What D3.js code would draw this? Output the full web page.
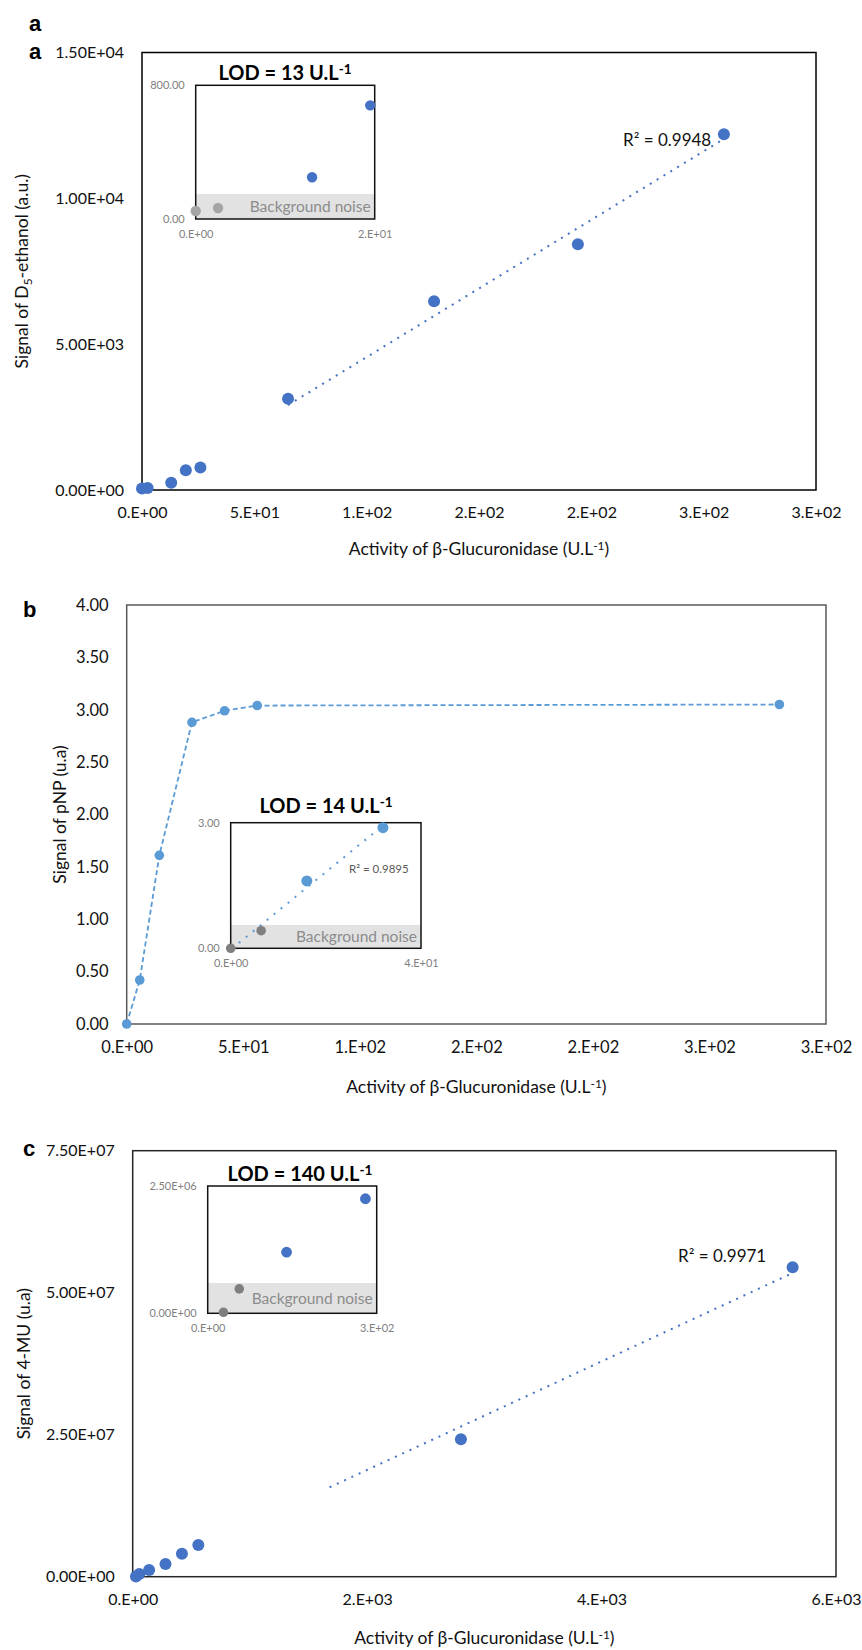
<!DOCTYPE html>
<html>
<head>
<meta charset="utf-8">
<script src="https://cdn.jsdelivr.net/npm/d3@7"></script>
<style>
body { margin: 0; background: #fff; }
svg text { font-family: Lato, "Open Sans", sans-serif; }
.panel-letter { font-family: "Liberation Sans", Arial, sans-serif !important; font-weight: bold; font-size: 22px; }
</style>
</head>
<body>
<svg id="chart" width="862" height="1650"></svg>
<script>
// ---------- data: panel a (D5-ethanol) ----------
var aActivity = [0, 2.5, 13, 19.5, 26, 65, 130, 194, 259];
var aSignal   = [48, 66, 250, 680, 770, 3126, 6471, 8424, 12195];
var aXTicks = [0, 50, 100, 150, 200, 250, 300];
var aXTickLabels = ["0.E+00", "5.E+01", "1.E+02", "2.E+02", "2.E+02", "3.E+02", "3.E+02"];
var aYTicks = [0, 5000, 10000, 15000];
var aYTickLabels = ["0.00E+00", "5.00E+03", "1.00E+04", "1.50E+04"];
var aInsetXTicks = [0, 20];
var aInsetXTickLabels = ["0.E+00", "2.E+01"];
var aInsetYTicks = [0, 800];
var aInsetYTickLabels = ["0.00", "800.00"];
var aNoise = 150;
var aLod = "13";
var aR2 = "0.9948";
var aTrendFrom = 65;

// ---------- data: panel b (pNP) ----------
var bActivity = [0, 5.6, 14, 28, 42, 56, 280];
var bSignal   = [0, 0.42, 1.61, 2.88, 2.99, 3.04, 3.05];
var bXTicks = [0, 50, 100, 150, 200, 250, 300];
var bXTickLabels = ["0.E+00", "5.E+01", "1.E+02", "2.E+02", "2.E+02", "3.E+02", "3.E+02"];
var bYTicks = [0, 0.5, 1, 1.5, 2, 2.5, 3, 3.5, 4];
var bYTickLabels = ["0.00", "0.50", "1.00", "1.50", "2.00", "2.50", "3.00", "3.50", "4.00"];
var bInsetXTicks = [0, 35];
var bInsetXTickLabels = ["0.E+00", "4.E+01"];
var bInsetYTicks = [0, 3];
var bInsetYTickLabels = ["0.00", "3.00"];
var bNoise = 0.556;
var bLod = "14";
var bR2 = "0.9895";
var bTrendFrom = 1.5;

// ---------- data: panel c (4-MU) ----------
var cActivity = [28, 56, 140, 280, 420, 560, 2800, 5630];
var cSignal   = [0.02e6, 0.48e6, 1.2e6, 2.25e6, 4.05e6, 5.58e6, 24.2e6, 54.5e6];
var cXTicks = [0, 2000, 4000, 6000];
var cXTickLabels = ["0.E+00", "2.E+03", "4.E+03", "6.E+03"];
var cYTicks = [0, 2.5e7, 5e7, 7.5e7];
var cYTickLabels = ["0.00E+00", "2.50E+07", "5.00E+07", "7.50E+07"];
var cInsetXTicks = [0, 300];
var cInsetXTickLabels = ["0.E+00", "3.E+02"];
var cInsetYTicks = [0, 2.5e6];
var cInsetYTickLabels = ["0.00E+00", "2.50E+06"];
var cNoise = 0.595e6;
var cLod = "140";
var cR2 = "0.9971";
var cTrendFrom = 1680;

var svg = d3.select("#chart");

// least squares line through a set of points
function linearFit(xs, ys) {
    var mx = d3.mean(xs), my = d3.mean(ys);
    var sxy = d3.sum(xs, function(v, i) { return (v - mx) * (ys[i] - my); });
    var sxx = d3.sum(xs, function(v) { return (v - mx) * (v - mx); });
    var slope = sxy / sxx;
    return { slope: slope, intercept: my - slope * mx };
}

function zip(xs, ys) {
    return xs.map(function(v, i) { return { x: v, y: ys[i] }; });
}

// text with a trailing superscript, e.g. U.L^-1
function supText(sel, before, sup, after) {
    sel.append("tspan").text(before);
    sel.append("tspan").attr("dy", "-0.45em").attr("font-size", "0.68em").text(sup);
    if (after) sel.append("tspan").attr("dy", "0.32em").text(after);
}

function drawPanel(cfg) {
    var L = cfg.box;
    var g = svg.append("g");
    var x = d3.scaleLinear().domain([cfg.xTicks[0], cfg.xTicks[cfg.xTicks.length - 1]]).range([L.left, L.right]);
    var y = d3.scaleLinear().domain([cfg.yTicks[0], cfg.yTicks[cfg.yTicks.length - 1]]).range([L.bottom, L.top]);
    var data = zip(cfg.xs, cfg.ys);

    g.append("rect")
        .attr("x", L.left).attr("y", L.top)
        .attr("width", L.right - L.left).attr("height", L.bottom - L.top)
        .attr("fill", "none").attr("stroke", cfg.frameColor).attr("stroke-width", 1.5);

    var yAxis = g.append("g")
        .attr("transform", "translate(" + L.left + ",0)")
        .call(d3.axisLeft(y).tickValues(cfg.yTicks)
            .tickFormat(function(d, i) { return cfg.yTickLabels[i]; })
            .tickSize(0).tickPadding(18));
    var xAxis = g.append("g")
        .attr("transform", "translate(0," + L.bottom + ")")
        .call(d3.axisBottom(x).tickValues(cfg.xTicks)
            .tickFormat(function(d, i) { return cfg.xTickLabels[i]; })
            .tickSize(0).tickPadding(17));
    [yAxis, xAxis].forEach(function(ax) {
        ax.select(".domain").remove();
        ax.attr("font-family", null).attr("font-size", null);
        ax.selectAll("text").style("font-size", cfg.tickSize + "px").attr("fill", "#111");
    });

    // axis titles
    var yt = g.append("text")
        .attr("transform", "translate(" + cfg.yTitleX + "," + ((L.top + L.bottom) / 2) + ") rotate(-90)")
        .attr("text-anchor", "middle").attr("dy", "0.35em")
        .style("font-size", "17.5px").attr("fill", "#111");
    cfg.yTitle(yt);
    var xt = g.append("text")
        .attr("x", (L.left + L.right) / 2).attr("y", cfg.xTitleY)
        .attr("text-anchor", "middle")
        .style("font-size", "17.5px").attr("fill", "#111");
    supText(xt, "Activity of \u03b2-Glucuronidase (U.L", "-1", ")");

    // connecting dashed line (panel b)
    if (cfg.connect) {
        g.append("path").datum(data)
            .attr("d", d3.line().x(function(d) { return x(d.x); }).y(function(d) { return y(d.y); }))
            .attr("fill", "none").attr("stroke", cfg.color)
            .attr("stroke-width", 1.8).attr("stroke-dasharray", "5,3");
    }

    // regression trend line
    if (cfg.trend) {
        var fit = linearFit(cfg.xs, cfg.ys);
        var x1 = cfg.trendFrom, x2 = d3.max(cfg.xs);
        g.append("line")
            .attr("x1", x(x1)).attr("y1", y(fit.slope * x1 + fit.intercept))
            .attr("x2", x(x2)).attr("y2", y(fit.slope * x2 + fit.intercept))
            .attr("stroke", cfg.color).attr("stroke-width", 2).attr("stroke-dasharray", "2,6");
        g.append("text").attr("x", cfg.r2Pos[0]).attr("y", cfg.r2Pos[1])
            .style("font-size", "17px").attr("fill", "#111")
            .text("R\u00b2 = " + cfg.r2);
    }

    g.selectAll(".pt").data(data).enter().append("circle")
        .attr("class", "pt")
        .attr("cx", function(d) { return x(d.x); })
        .attr("cy", function(d) { return y(d.y); })
        .attr("r", cfg.r).attr("fill", cfg.color);

    if (cfg.letters) {
        cfg.letters.forEach(function(l) {
            g.append("text").attr("class", "panel-letter")
                .attr("x", l[1]).attr("y", l[2]).text(l[0]);
        });
    }

    drawInset(g, cfg);
}

function drawInset(g, cfg) {
    var I = cfg.inset;
    var xi = d3.scaleLinear().domain([I.xTicks[0], I.xTicks[1]]).range([I.left, I.right]);
    var yi = d3.scaleLinear().domain([I.yTicks[0], I.yTicks[1]]).range([I.bottom, I.top]);
    var pts = zip(cfg.xs, cfg.ys).filter(function(d) { return d.x <= I.xTicks[1]; });
    var ig = g.append("g");

    ig.append("rect")
        .attr("x", I.left).attr("y", I.top)
        .attr("width", I.right - I.left).attr("height", I.bottom - I.top)
        .attr("fill", "#fff");
    // background noise band
    ig.append("rect")
        .attr("x", I.left).attr("y", yi(I.noise))
        .attr("width", I.right - I.left).attr("height", I.bottom - yi(I.noise))
        .attr("fill", "#e2e2e2");
    ig.append("text")
        .attr("x", I.right - 4).attr("y", (yi(I.noise) + I.bottom) / 2)
        .attr("dy", "0.35em").attr("text-anchor", "end")
        .style("font-size", "15.5px").attr("fill", "#8c8c8c")
        .text("Background noise");

    var ya = ig.append("g").attr("transform", "translate(" + I.left + ",0)")
        .call(d3.axisLeft(yi).tickValues(I.yTicks)
            .tickFormat(function(d, i) { return I.yTickLabels[i]; })
            .tickSize(0).tickPadding(11));
    var xa = ig.append("g").attr("transform", "translate(0," + I.bottom + ")")
        .call(d3.axisBottom(xi).tickValues(I.xTicks)
            .tickFormat(function(d, i) { return I.xTickLabels[i]; })
            .tickSize(0).tickPadding(11));
    [ya, xa].forEach(function(ax) {
        ax.select(".domain").remove();
        ax.attr("font-family", null).attr("font-size", null);
        ax.selectAll("text").style("font-size", "11px").attr("fill", "#7f7f7f");
    });

    if (I.trend) {
        var fit = linearFit(pts.map(function(d) { return d.x; }), pts.map(function(d) { return d.y; }));
        var x1 = I.trendFrom, x2 = d3.max(pts, function(d) { return d.x; });
        ig.append("line")
            .attr("x1", xi(x1)).attr("y1", yi(fit.slope * x1 + fit.intercept))
            .attr("x2", xi(x2)).attr("y2", yi(fit.slope * x2 + fit.intercept))
            .attr("stroke", cfg.color).attr("stroke-width", 2).attr("stroke-dasharray", "2,7");
        ig.append("text").attr("x", I.r2Pos[0]).attr("y", I.r2Pos[1])
            .style("font-size", "11.5px").attr("fill", "#595959")
            .text("R\u00b2 = " + I.r2);
    }

    ig.append("rect")
        .attr("x", I.left).attr("y", I.top)
        .attr("width", I.right - I.left).attr("height", I.bottom - I.top)
        .attr("fill", "none").attr("stroke", "#111").attr("stroke-width", 1.5);

    ig.selectAll(".ipt").data(pts).enter().append("circle")
        .attr("class", "ipt")
        .attr("cx", function(d) { return xi(d.x); })
        .attr("cy", function(d) { return yi(d.y); })
        .attr("r", function(d) { return d.y < I.noise ? I.rGray : I.r; })
        .attr("fill", function(d) { return d.y < I.noise ? I.gray : cfg.color; });

    var lt = ig.append("text")
        .attr("x", I.lodX).attr("y", I.lodY).attr("text-anchor", "middle")
        .style("font-size", "20px").style("font-weight", "bold").attr("fill", "#000");
    supText(lt, "LOD = " + I.lod + " U.L", "-1");
}

drawPanel({
    xs: aActivity, ys: aSignal,
    xTicks: aXTicks, xTickLabels: aXTickLabels,
    yTicks: aYTicks, yTickLabels: aYTickLabels,
    box: { left: 142, top: 52.5, right: 816, bottom: 490 },
    frameColor: "#000", color: "#4472c4", r: 6, tickSize: 16,
    yTitleX: 22, xTitleY: 555,
    yTitle: function(t) {
        t.append("tspan").text("Signal of D");
        t.append("tspan").attr("dy", "0.3em").attr("font-size", "0.68em").text("5");
        t.append("tspan").attr("dy", "-0.2em").text("-ethanol (a.u.)");
    },
    trend: true, trendFrom: aTrendFrom, r2: aR2, r2Pos: [623, 146],
    letters: [["a", 29, 31], ["a", 29, 59]],
    inset: {
        left: 195.7, top: 85.3, right: 374.7, bottom: 219,
        xTicks: aInsetXTicks, xTickLabels: aInsetXTickLabels,
        yTicks: aInsetYTicks, yTickLabels: aInsetYTickLabels,
        noise: aNoise, lod: aLod, lodX: 285, lodY: 80,
        gray: "#a5a5a5", r: 5.2, rGray: 5.2, trend: false
    }
});

drawPanel({
    xs: bActivity, ys: bSignal,
    xTicks: bXTicks, xTickLabels: bXTickLabels,
    yTicks: bYTicks, yTickLabels: bYTickLabels,
    box: { left: 126.7, top: 605, right: 826, bottom: 1024 },
    frameColor: "#595959", color: "#5b9bd5", r: 4.8, tickSize: 16.5,
    yTitleX: 60, xTitleY: 1093,
    yTitle: function(t) { t.text("Signal of pNP (u.a)"); },
    connect: true, trend: false,
    letters: [["b", 23, 617]],
    inset: {
        left: 230.7, top: 822.7, right: 421, bottom: 948.3,
        xTicks: bInsetXTicks, xTickLabels: bInsetXTickLabels,
        yTicks: bInsetYTicks, yTickLabels: bInsetYTickLabels,
        noise: bNoise, lod: bLod, lodX: 326, lodY: 813,
        gray: "#7f7f7f", r: 5.5, rGray: 4.8,
        trend: true, trendFrom: bTrendFrom, r2: bR2, r2Pos: [349, 873]
    }
});

drawPanel({
    xs: cActivity, ys: cSignal,
    xTicks: cXTicks, xTickLabels: cXTickLabels,
    yTicks: cYTicks, yTickLabels: cYTickLabels,
    box: { left: 132.7, top: 1150.7, right: 836, bottom: 1576.7 },
    frameColor: "#262626", color: "#4472c4", r: 6, tickSize: 16,
    yTitleX: 23.5, xTitleY: 1644,
    yTitle: function(t) { t.text("Signal of 4-MU (u.a)"); },
    trend: true, trendFrom: cTrendFrom, r2: cR2, r2Pos: [678, 1262],
    letters: [["c", 23, 1156]],
    inset: {
        left: 207.7, top: 1186, right: 376.7, bottom: 1313.3,
        xTicks: cInsetXTicks, xTickLabels: cInsetXTickLabels,
        yTicks: cInsetYTicks, yTickLabels: cInsetYTickLabels,
        noise: cNoise, lod: cLod, lodX: 300, lodY: 1181,
        gray: "#7f7f7f", r: 5.4, rGray: 4.8, trend: false
    }
});
</script>
</body>
</html>
